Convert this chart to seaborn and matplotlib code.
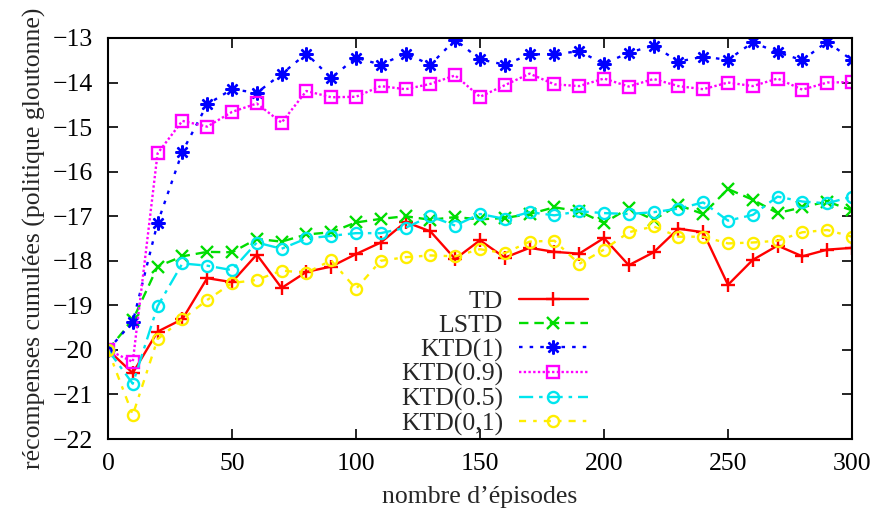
"""
Cumulated rewards per episode for TD, LSTD and KTD variants.
"""

import numpy as np
import pandas as pd
import matplotlib
matplotlib.use("Agg")
import matplotlib.pyplot as plt
import seaborn as sns

episodes = list(range(0, 301, 10))

td = [-20.0, -20.52, -19.59, -19.31, -18.39, -18.48, -17.86, -18.61, -18.25, -18.13,
      -17.85, -17.59, -17.13, -17.34, -17.96, -17.54, -17.93, -17.71, -17.80, -17.84,
      -17.49, -18.10, -17.81, -17.28, -17.36, -18.54, -17.98, -17.66, -17.90, -17.75, -17.71]

lstd = [-20.0, -19.33, -18.13, -17.90, -17.80, -17.81, -17.51, -17.57, -17.41, -17.36,
        -17.14, -17.06, -17.00, -17.08, -17.02, -17.07, -17.04, -16.95, -16.80, -16.89,
        -17.15, -16.82, -17.08, -16.75, -16.95, -16.39, -16.63, -16.93, -16.80, -16.67, -16.87]

ktd_1 = [-20.0, -19.37, -17.15, -15.55, -14.49, -14.15, -14.23, -13.81, -13.35, -13.90,
         -13.44, -13.60, -13.35, -13.60, -13.04, -13.48, -13.60, -13.37, -13.36, -13.30,
         -13.58, -13.33, -13.17, -13.53, -13.42, -13.49, -13.10, -13.32, -13.50, -13.08, -13.50]

ktd_09 = [-20.0, -20.27, -15.59, -14.86, -14.99, -14.66, -14.47, -14.90, -14.19, -14.33,
          -14.32, -14.08, -14.15, -14.03, -13.84, -14.32, -14.06, -13.80, -14.04, -14.08,
          -13.91, -14.09, -13.92, -14.08, -14.15, -14.00, -14.08, -13.91, -14.16, -14.00, -13.99]

ktd_05 = [-20.0, -20.76, -19.02, -18.06, -18.11, -18.21, -17.59, -17.73, -17.50, -17.44,
          -17.38, -17.38, -17.26, -17.00, -17.21, -16.95, -17.06, -16.91, -16.98, -16.89,
          -16.93, -16.95, -16.91, -16.83, -16.69, -17.10, -16.97, -16.56, -16.67, -16.71, -16.56]

ktd_01 = [-20.0, -21.46, -19.76, -19.31, -18.88, -18.50, -18.43, -18.22, -18.27, -17.99,
          -18.63, -18.00, -17.92, -17.88, -17.90, -17.74, -17.83, -17.57, -17.55, -18.07,
          -17.75, -17.36, -17.23, -17.46, -17.46, -17.61, -17.59, -17.55, -17.36, -17.31, -17.46]

labels = ["TD", "LSTD", "KTD(1)", "KTD(0.9)", "KTD(0.5)", "KTD(0,1)"]
series = [td, lstd, ktd_1, ktd_09, ktd_05, ktd_01]

# gnuplot-like styles
styles = {
    "TD":       dict(color="#ff0000", linestyle="-", marker="+", markersize=10),
    "LSTD":     dict(color="#00dd00", linestyle=(0, (4, 2.5)), marker="x", markersize=8),
    "KTD(1)":   dict(color="#0000ff", linestyle=(0, (1.5, 3)), marker=(8, 2, 0), markersize=10),
    "KTD(0.9)": dict(color="#ff00ff", linestyle=(0, (1, 1)), marker="s", markersize=9),
    "KTD(0.5)": dict(color="#00e5ee", linestyle=(0, (6, 2.5, 1.5, 2.5)), marker="o", markersize=8),
    "KTD(0,1)": dict(color="#ffee00", linestyle=(0, (3, 3, 1.5, 3)), marker="o", markersize=8),
}

FS = 18.5

sns.set_style("ticks")
plt.rcParams["font.family"] = ["Liberation Serif", "DejaVu Serif"]
plt.rcParams["font.size"] = FS
plt.rcParams["axes.unicode_minus"] = True

fig = plt.figure(figsize=(8.75, 5.16), dpi=100)
ax = fig.add_axes([0.1234, 0.1492, 0.8503, 0.7772])

for label, values in zip(labels, series):
    st = styles[label]
    sns.lineplot(x=episodes, y=values, ax=ax, label=label,
                 color=st["color"], linestyle=st["linestyle"], linewidth=1.7,
                 marker=st["marker"], markersize=st["markersize"],
                 markeredgecolor=st["color"], markerfacecolor="none",
                 markeredgewidth=1.7)

ax.set_xlim(0, 300)
ax.set_ylim(-22, -13)
ax.set_xticks(np.arange(0, 301, 50))
ax.set_yticks(np.arange(-22, -12, 1))
ax.tick_params(direction="in", top=True, right=True, length=7, width=1.2,
               labelsize=FS, colors="black")
ax.tick_params(axis="x", pad=10)
ax.tick_params(axis="y", pad=11)
for spine in ax.spines.values():
    spine.set_visible(True)
    spine.set_linewidth(1.5)
    spine.set_color("black")

ax.set_xlabel("nombre d’épisodes", fontsize=FS, labelpad=8)
ax.set_ylabel("récompenses cumulées (politique gloutonne)", fontsize=FS, labelpad=5)

ax.legend(loc="lower right", bbox_to_anchor=(0.652, -0.005), frameon=False,
          markerfirst=False, handlelength=2.7, handletextpad=0.6,
          labelspacing=0.05, borderpad=0.2, borderaxespad=0, fontsize=FS)

fig.savefig("out.png", dpi=100)
